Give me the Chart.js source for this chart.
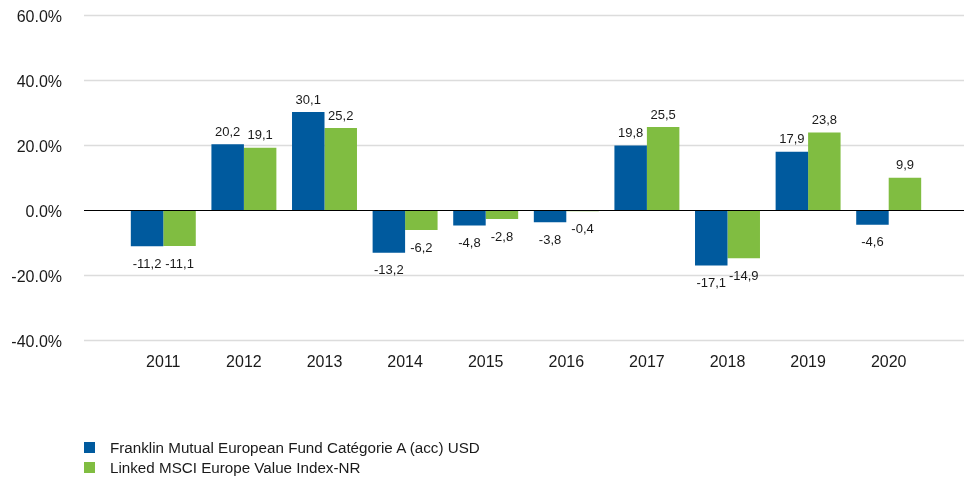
<!DOCTYPE html>
<html>
<head>
<meta charset="utf-8">
<script src="https://cdn.jsdelivr.net/npm/chart.js@4.4.1/dist/chart.umd.min.js"></script>
<style>
  html, body { margin: 0; padding: 0; background: #fff; }
  #wrap { position: relative; width: 964px; height: 481px; font-family: "Liberation Sans", Arial, sans-serif; }
  #c { position: absolute; left: 0; top: 0; }
  #legend { position: absolute; left: 84px; top: 438px; color: #1a1a1a; font-size: 15.2px; }
  .item { display: flex; align-items: center; height: 19.5px; }
  .sw { width: 11px; height: 11px; margin-right: 15px; }
</style>
</head>
<body>
<div id="wrap">
  <canvas id="c" width="964" height="481"></canvas>
  <div id="legend"></div>
</div>
<script>
const categories = ["2011","2012","2013","2014","2015","2016","2017","2018","2019","2020"];
const fundValues = [-11.2, 20.2, 30.1, -13.2, -4.8, -3.8, 19.8, -17.1, 17.9, -4.6];
const indexValues = [-11.1, 19.1, 25.2, -6.2, -2.8, -0.4, 25.5, -14.9, 23.8, 9.9];
const seriesNames = ["Franklin Mutual European Fund Catégorie A (acc) USD", "Linked MSCI Europe Value Index-NR"];
const seriesColors = ["#005a9e", "#80bd41"];
const yTicks = [60, 40, 20, 0, -20, -40];

const FONT = '"Liberation Sans", Arial, sans-serif';
const TEXT = '#1a1a1a';

const gridPlugin = {
  id: 'fullGrid',
  beforeDatasetsDraw(chart) {
    const ctx = chart.ctx, y = chart.scales.y;
    ctx.save();
    ctx.strokeStyle = '#dcdcdc';
    ctx.lineWidth = 1.5;
    yTicks.forEach(v => {
      if (v === 0) return;
      const py = Math.round(y.getPixelForValue(v)) + 0.5;
      ctx.beginPath(); ctx.moveTo(84, py); ctx.lineTo(964, py); ctx.stroke();
    });
    ctx.restore();
  },
  afterDatasetsDraw(chart) {
    const ctx = chart.ctx, y = chart.scales.y;
    ctx.save();
    ctx.strokeStyle = '#000';
    ctx.lineWidth = 1;
    const py = Math.round(y.getPixelForValue(0)) + 0.5;
    ctx.beginPath(); ctx.moveTo(84, py); ctx.lineTo(964, py); ctx.stroke();
    ctx.fillStyle = TEXT;
    ctx.font = '13px ' + FONT;
    ctx.textAlign = 'center';
    ctx.textBaseline = 'middle';
    chart.data.datasets.forEach((ds, di) => {
      const meta = chart.getDatasetMeta(di);
      meta.data.forEach((bar, i) => {
        const v = ds.data[i];
        const txt = v.toFixed(1).replace('.', ',');
        const ty = v >= 0 ? bar.y - 12 : bar.y + 18;
        ctx.fillText(txt, bar.x, ty);
      });
    });
    ctx.restore();
  }
};

new Chart(document.getElementById('c'), {
  type: 'bar',
  data: {
    labels: categories,
    datasets: [
      { label: seriesNames[0], data: fundValues, backgroundColor: seriesColors[0] },
      { label: seriesNames[1], data: indexValues, backgroundColor: seriesColors[1] }
    ]
  },
  options: {
    responsive: false,
    animation: false,
    devicePixelRatio: 1,
    layout: { padding: { left: 0, right: 35, top: 15, bottom: 104 } },
    datasets: { bar: { categoryPercentage: 0.806, barPercentage: 1.0 } },
    plugins: { legend: { display: false }, tooltip: { enabled: false } },
    scales: {
      x: {
        grid: { display: false },
        border: { display: false },
        ticks: { color: TEXT, font: { family: FONT, size: 16 }, padding: 5, maxRotation: 0 },
        afterFit: s => { s.paddingLeft = 0; s.paddingRight = 0; }
      },
      y: {
        min: -40, max: 60,
        afterBuildTicks: s => { s.ticks = yTicks.map(v => ({ value: v })); },
        afterFit: s => { s.width = 123; s.paddingTop = 0; s.paddingBottom = 0; },
        grid: { display: false, drawTicks: false },
        border: { display: false },
        ticks: {
          color: TEXT, font: { family: FONT, size: 16 }, padding: 61, labelOffset: 3,
          callback: v => v.toFixed(1) + '%'
        }
      }
    }
  },
  plugins: [gridPlugin]
});

const lg = document.getElementById('legend');
seriesNames.forEach((n, i) => {
  const d = document.createElement('div'); d.className = 'item';
  const s = document.createElement('span'); s.className = 'sw'; s.style.background = seriesColors[i];
  const t = document.createElement('span'); t.textContent = n;
  d.appendChild(s); d.appendChild(t); lg.appendChild(d);
});
</script>
</body>
</html>
